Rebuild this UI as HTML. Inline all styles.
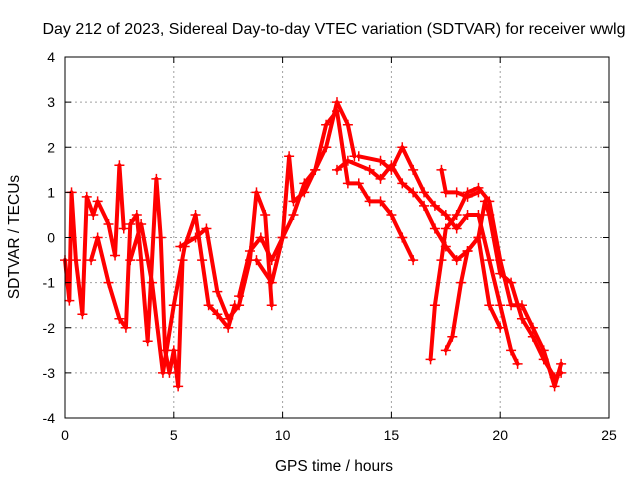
<!DOCTYPE html>
<html><head><meta charset="utf-8"><style>
body{margin:0;background:#fff}
svg text{font-family:"Liberation Sans",sans-serif;font-size:14px;fill:#000}
</style></head><body>
<svg id="chart" width="640" height="480" xmlns="http://www.w3.org/2000/svg">
<rect width="640" height="480" fill="#fff"/>
<text x="334" y="34" text-anchor="middle" style="font-size:16px">Day 212 of 2023, Sidereal Day-to-day VTEC variation (SDTVAR) for receiver wwlg</text>
<g id="grid"></g>
<g id="marks"></g>
<rect x="65" y="57" width="544" height="361" fill="none" stroke="#000" stroke-width="1"/>
<g id="ticks"></g>
<text x="334" y="471" text-anchor="middle" style="font-size:15.5px">GPS time / hours</text>
<text transform="translate(19,237) rotate(-90)" text-anchor="middle" style="font-size:15.5px">SDTVAR / TECUs</text>
</svg>
<script>
const xTicks=[0,5,10,15,20,25];
const yTicks=[-4,-3,-2,-1,0,1,2,3,4];
const trackA=[[0,-0.5],[0.2,-1.4],[0.3,1.0],[0.5,-0.5],[0.8,-1.7],[1.0,0.9],[1.3,0.5],[1.5,0.8],[2.0,0.3],[2.3,-0.4],[2.5,1.6],[2.7,0.2]];
const trackB=[[1.2,-0.5],[1.5,0],[2.0,-1.0],[2.5,-1.8],[2.8,-2.0],[3.0,0.3],[3.3,0.5],[3.5,-0.5],[3.8,-2.3],[4.2,1.3],[4.4,0],[4.6,-2.5],[4.8,-3.0],[5.0,-2.5],[5.2,-3.3],[5.4,-0.5]];
const trackC=[[3.0,-0.5],[3.5,0.3],[4.0,-1.0],[4.5,-3.0],[5.0,-1.5],[5.5,-0.2],[6.0,0.5],[6.3,-0.5],[6.6,-1.5],[7.0,-1.7],[7.5,-2.0],[7.8,-1.5]];
const trackD=[[5.3,-0.2],[6.0,0],[6.5,0.2],[7,-1.2],[7.5,-1.8],[8,-1.5],[8.5,-0.5],[8.8,1.0],[9.2,0.5],[9.5,-1.5]];
const trackE=[[8,-1.3],[8.5,-0.3],[9,0],[9.5,-0.5],[10,0],[10.5,0.5],[11,1.2],[11.5,1.5],[12,2.0],[12.5,3.0],[13,2.5],[13.3,1.8]];
const trackF=[[8.8,-0.5],[9.5,-1.0],[10,0],[10.3,1.8],[10.5,0.8],[11,1.0],[11.5,1.5],[12,2.5],[12.5,2.8],[13,1.2],[13.5,1.2],[14,0.8],[14.5,0.8],[15,0.5],[15.5,0],[16,-0.5]];
const trackG=[[12.5,1.5],[13,1.7],[14,1.5],[14.5,1.3],[15,1.6],[15.5,1.2],[16,1.0],[16.5,0.7],[17,0.2],[17.5,-0.2],[18,-0.5],[18.5,-0.3],[19,0],[19.5,-1.5],[20,-2.0]];
const trackH=[[13.5,1.8],[14.5,1.7],[15,1.5],[15.5,2.0],[16,1.5],[16.5,1.0],[17,0.7],[17.5,0.5],[18,0.2],[18.5,0.5],[19,0.5],[19.5,-0.5],[20,-1.5],[20.5,-2.5],[20.8,-2.8]];
const trackI=[[16.8,-2.7],[17,-1.5],[17.3,-0.5],[17.5,0.2],[18,0.5],[18.5,1.0],[19,1.1],[19.5,0.8],[20,-0.5],[20.5,-1.5],[21,-1.5],[21.5,-2.0],[22,-2.5],[22.5,-3.3],[22.8,-2.8]];
const trackJ=[[17.5,-2.5],[17.8,-2.2],[18.2,-1.0],[18.5,-0.3],[19,0],[19.3,0.8],[19.5,0.5],[20,-0.8],[20.5,-1.0],[21,-1.8],[21.5,-2.2],[22,-2.7],[22.5,-3.1],[22.8,-3.0]];
const trackK=[[17.3,1.5],[17.5,1.0],[18,1.0],[18.5,0.9],[19,1.0]];
const tracks=[trackA,trackB,trackC,trackD,trackE,trackF,trackG,trackH,trackI,trackJ,trackK];

const NS="http://www.w3.org/2000/svg";
const X0=65,X1=609,Y0=418,Y1=57;
const xs=v=>X0+(v-0)/(25-0)*(X1-X0);
const ys=v=>Y0-(v+4)/8*(Y0-Y1);
function mk(tag,attrs,parent){const e=document.createElementNS(NS,tag);for(const k in attrs)e.setAttribute(k,attrs[k]);parent.appendChild(e);return e;}
const grid=document.getElementById('grid'),ticks=document.getElementById('ticks'),marks=document.getElementById('marks');
xTicks.forEach(t=>{
  const x=xs(t);
  if(t>0&&t<25){const l=mk('line',{x1:x,y1:Y0,x2:x,y2:Y1,stroke:'#a0a0a0','stroke-dasharray':'2,3'},grid);
  
  }
  mk('line',{x1:x,y1:Y0,x2:x,y2:Y0-6,stroke:'#000'},ticks);
  mk('line',{x1:x,y1:Y1,x2:x,y2:Y1+6,stroke:'#000'},ticks);
  const tx=mk('text',{x:x,y:Y0+22,'text-anchor':'middle'},ticks);tx.textContent=t;
  
  
});
yTicks.forEach(t=>{
  const y=ys(t);
  if(t>-4&&t<4){const l=mk('line',{x1:X0,y1:y,x2:X1,y2:y,stroke:'#a0a0a0','stroke-dasharray':'2,3'},grid);
  
  }
  mk('line',{x1:X0,y1:y,x2:X0+6,y2:y,stroke:'#000'},ticks);
  mk('line',{x1:X1,y1:y,x2:X1-6,y2:y,stroke:'#000'},ticks);
  const tx=mk('text',{x:X0-10,y:y+5,'text-anchor':'end'},ticks);tx.textContent=t;
  
  
});
tracks.forEach((tr,i)=>{
  const pts=tr.map(p=>xs(p[0])+','+ys(p[1])).join(' ');
  const pl=mk('polyline',{points:pts,fill:'none',stroke:'#f00','stroke-width':4,'stroke-linejoin':'round','stroke-linecap':'round'},marks);
  
  
  tr.forEach(p=>{
    const x=xs(p[0]),y=ys(p[1]);
    const m=mk('path',{d:`M${x-5},${y}H${x+5}M${x},${y-5}V${y+5}`,stroke:'#f00','stroke-width':1.5},marks);
    
    
  });
});
</script>
</body></html>
